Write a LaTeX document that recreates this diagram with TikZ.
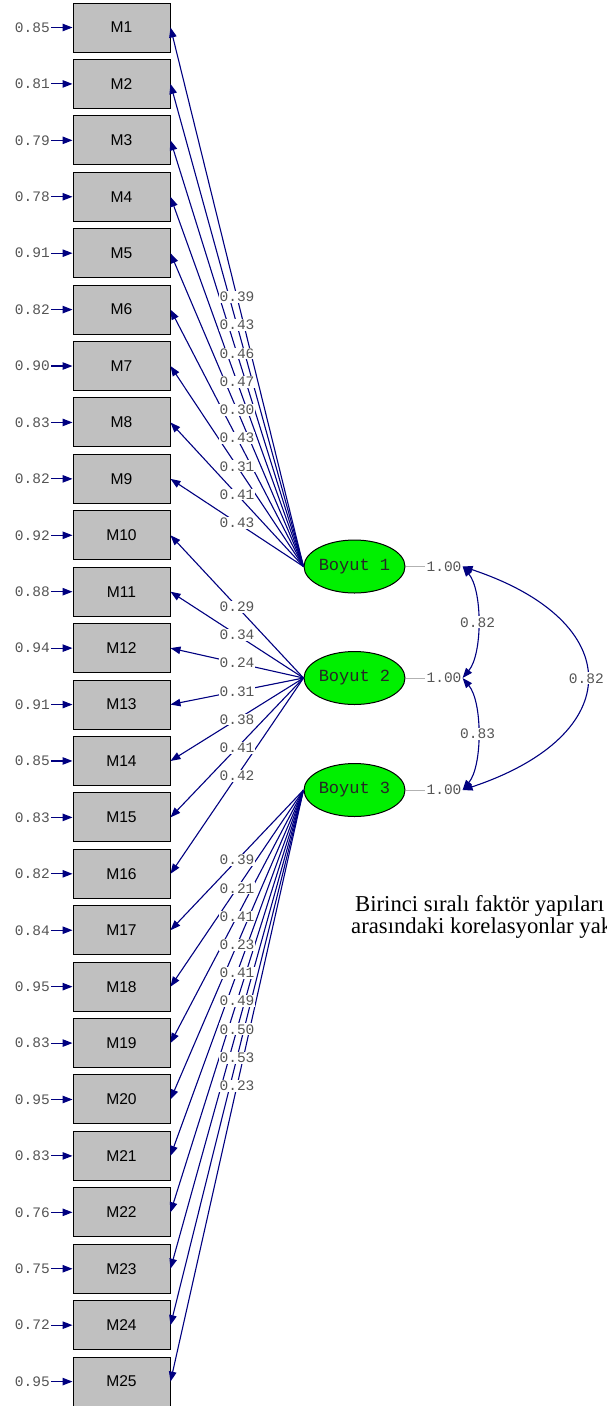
\documentclass[tikz,border=0pt]{standalone}
\usepackage{fontspec}
\setmainfont{Liberation Serif}
\setsansfont{Liberation Sans}
\setmonofont{Liberation Mono}
\usetikzlibrary{arrows.meta,shapes.geometric,calc}
\definecolor{pathblue}{RGB}{0,0,128}
\definecolor{boxgray}{RGB}{192,192,192}
\definecolor{latentgreen}{RGB}{0,240,0}
\definecolor{numgray}{RGB}{85,85,85}
\begin{document}
\begin{tikzpicture}[x=1pt,y=-1pt,
  observed/.style={draw=black, line width=1pt, fill=boxgray, minimum width=97pt,
    minimum height=49pt, inner sep=0pt, font=\sffamily\fontsize{15.6}{15.6}\selectfont},
  latent/.style={ellipse, draw=black, line width=1pt, fill=latentgreen,
    minimum width=95pt, minimum height=53pt, inner sep=0pt,
    font=\ttfamily\fontsize{17}{17}\selectfont, text=black!85},
  path arrow/.style={draw=pathblue, line width=1.1pt, -{Triangle[length=10pt,width=7.5pt]}},
  corr/.style={draw=pathblue, line width=1.1pt,
    {Triangle[length=10pt,width=7.5pt]}-{Triangle[length=10pt,width=7.5pt]}},
  coef/.style={font=\ttfamily\fontsize{14.5}{14.5}\selectfont, text=numgray,
    fill=white, inner sep=1pt},
  errlabel/.style={font=\ttfamily\fontsize{14.5}{14.5}\selectfont, text=numgray,
    anchor=east, inner sep=1pt},
  varlabel/.style={font=\ttfamily\fontsize{14.5}{14.5}\selectfont, text=numgray,
    inner sep=1pt},
  caption/.style={anchor=base west, inner sep=0pt, font=\fontsize{22.7}{22.7}\selectfont},
]
\useasboundingbox (0,0) rectangle (606,1406);
\clip (0,0) rectangle (606,1406);

% observed indicators with their error variances
\foreach \i/\e in {1/0.85,2/0.81,3/0.79,4/0.78,5/0.91,6/0.82,7/0.90,8/0.83,9/0.82,
  10/0.92,11/0.88,12/0.94,13/0.91,14/0.85,15/0.83,16/0.82,17/0.84,18/0.95,19/0.83,
  20/0.95,21/0.83,22/0.76,23/0.75,24/0.72,25/0.95} {
  \node[observed] (m\i) at (121.5, {27.5+(\i-1)*56.42}) {M\i};
  \node[errlabel] (e\i) at (51, {27.5+(\i-1)*56.42}) {\e};
  \draw[path arrow] (e\i.east) -- (m\i.west);
}

% latent factors
\node[latent] (b1) at (354.5,566.5) {Boyut 1};
\node[latent] (b2) at (354.5,678) {Boyut 2};
\node[latent] (b3) at (354.5,790) {Boyut 3};

% factor loadings
\foreach \i in {1,...,9} \draw[path arrow] (b1.west) -- (m\i.east);
\foreach \i in {10,...,16} \draw[path arrow] (b2.west) -- (m\i.east);
\foreach \i in {17,...,25} \draw[path arrow] (b3.west) -- (m\i.east);

\foreach \i/\v in {1/0.39,2/0.43,3/0.46,4/0.47,5/0.30,6/0.43,7/0.31,8/0.41,9/0.43}
  \node[coef] at ($(b1.west)!0.5!(m\i.east)$) {\v};
\foreach \i/\v in {10/0.29,11/0.34,12/0.24,13/0.31,14/0.38,15/0.41,16/0.42}
  \node[coef] at ($(b2.west)!0.5!(m\i.east)$) {\v};
\foreach \i/\v in {17/0.39,18/0.21,19/0.41,20/0.23,21/0.41,22/0.49,23/0.50,24/0.53,25/0.23}
  \node[coef] at ($(b3.west)!0.5!(m\i.east)$) {\v};

% factor variances
\foreach \k/\y in {1/566.5,2/678,3/790} {
  \node[varlabel] (v\k) at (444,\y) {1.00};
  \draw[black!30, line width=1pt] (b\k.east) -- (v\k.west);
}

% factor correlations
\draw[corr] (v1.east) .. controls +(20,24) and +(20,-24) .. (v2.east)
  node[coef, pos=0.5] {0.82};
\draw[corr] (v2.east) .. controls +(20,24) and +(20,-24) .. (v3.east)
  node[coef, pos=0.5] {0.83};
\draw[corr] (v1.east) .. controls +(165,55) and +(165,-55) .. (v3.east)
  node[coef, pos=0.5] {0.82};

% caption
\node[caption] (cap1) at (355,911) {Birinci sıralı faktör yapıları};
\node[caption] (cap2) at (351,933) {arasındaki korelasyonlar yak};
\end{tikzpicture}
\end{document}
